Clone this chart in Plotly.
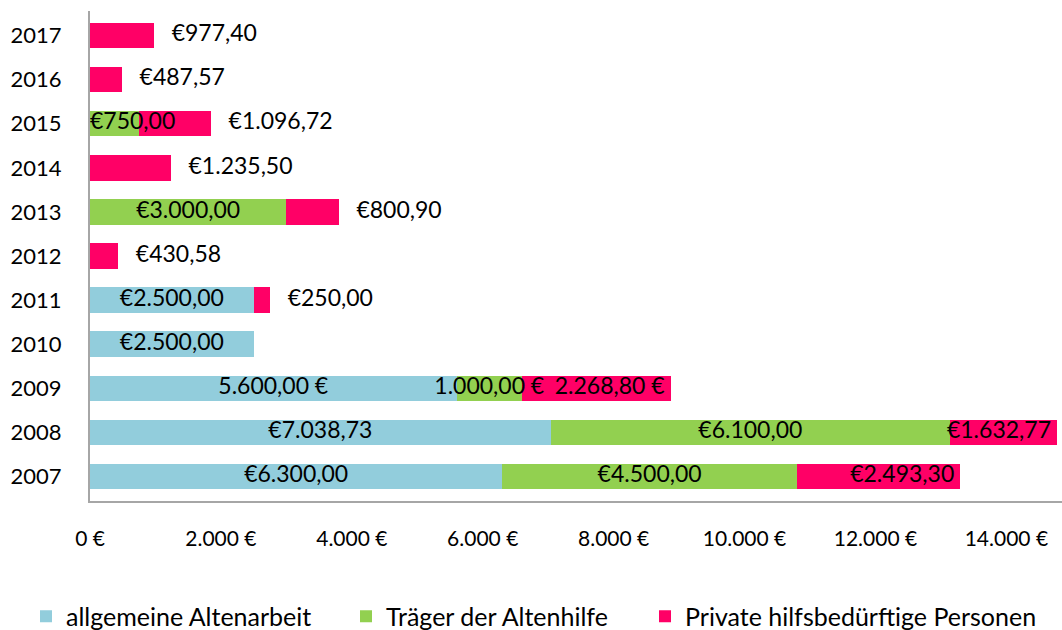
import plotly.graph_objects as go

years = ["2007", "2008", "2009", "2010", "2011", "2012", "2013", "2014", "2015", "2016", "2017"]
allgemeine = [6300.00, 7038.73, 5600.00, 2500.00, 2500.00, None, None, None, None, None, None]
traeger = [4500.00, 6100.00, 1000.00, None, None, None, 3000.00, None, 750.00, None, None]
private = [2493.30, 1632.77, 2268.80, None, 250.00, 430.58, 800.90, 1235.50, 1096.72, 487.57, 977.40]
suffix_years = ["2009"]  # labels written as "x €" instead of "€x"
names = ["allgemeine Altenarbeit", "Träger der Altenhilfe", "Private hilfsbedürftige Personen"]
colors = ["#92CDDC", "#92D050", "#FF0066"]

NB = "\u00a0"
FONT = "Lato, 'Open Sans', sans-serif"
LABEL_SIZE = 23


def fmt(v, year):
    s = f"{v:,.2f}".replace(",", "X").replace(".", ",").replace("X", ".")
    return f"{s} €" if year in suffix_years else f"€{s}"


series = [allgemeine, traeger, private]
legend_ids = ["legend", "legend2", "legend3"]
legend_px = [26, 346, 645]  # left edge of each legend entry, in pixels

fig = go.Figure()
for vals, name, col, lg in zip(series, names, colors, legend_ids):
    fig.add_trace(go.Bar(
        y=years, x=vals, orientation="h", name=name,
        marker=dict(color=col, line=dict(width=0)),
        hoverinfo="skip", legend=lg,
    ))

# data labels drawn on top of all bars
lab_x, lab_y, lab_t, lab_p = [], [], [], []
base = [0.0] * len(years)
for si, vals in enumerate(series):
    for i, (v, y) in enumerate(zip(vals, years)):
        if v is None:
            continue
        s = fmt(v, y)
        if si == 2 and v < 1500:
            # small private amounts: label to the right of the bar end
            lab_x.append(base[i] + v); lab_t.append(NB * 3 + s); lab_p.append("middle right")
        elif si == 2:
            # large private amounts: label at the inner end of the bar
            lab_x.append(base[i] + v); lab_t.append(s + NB); lab_p.append("middle left")
        elif si == 1 and y == "2015":
            lab_x.append(base[i]); lab_t.append(s); lab_p.append("middle right")
        else:
            lab_x.append(base[i] + v / 2); lab_t.append(s); lab_p.append("middle center")
        lab_y.append(y)
        base[i] += v

fig.add_trace(go.Scatter(
    x=lab_x, y=lab_y, text=lab_t, mode="text", textposition=lab_p,
    textfont=dict(color="black", size=LABEL_SIZE, family=FONT),
    showlegend=False, hoverinfo="skip", cliponaxis=False,
))

leg_common = dict(
    orientation="h", xref="container", yref="container", xanchor="left",
    y=1 - 616.5 / 630, yanchor="middle",
    font=dict(size=25, family=FONT, color="black"),
    itemwidth=30, bgcolor="rgba(0,0,0,0)", borderwidth=0,
)

fig.update_layout(
    barmode="stack",
    bargap=0.42,
    width=1062, height=630,
    margin=dict(l=90, r=0, t=11, b=129, autoexpand=False),
    paper_bgcolor="white", plot_bgcolor="white",
    separators=",.",
    font=dict(family=FONT, size=22, color="black"),
    showlegend=True,
    legend=dict(x=legend_px[0] / 1062, **leg_common),
    legend2=dict(x=legend_px[1] / 1062, **leg_common),
    legend3=dict(x=legend_px[2] / 1062, **leg_common),
)

fig.update_xaxes(
    range=[0, 14850], tick0=0, dtick=2000, tickformat=",.0f", ticksuffix=" €",
    showgrid=False, zeroline=False, showline=True, linecolor="#A6A6A6", linewidth=2,
    ticks="", ticklabelstandoff=18, tickfont=dict(size=21, family=FONT, color="black"),
)
fig.update_yaxes(
    type="category", categoryorder="array", categoryarray=years,
    showgrid=False, zeroline=False, showline=True, linecolor="#A6A6A6", linewidth=2,
    ticks="", ticklabelstandoff=22, tickfont=dict(size=22, family=FONT, color="black"),
)

fig.write_html("out.html")
